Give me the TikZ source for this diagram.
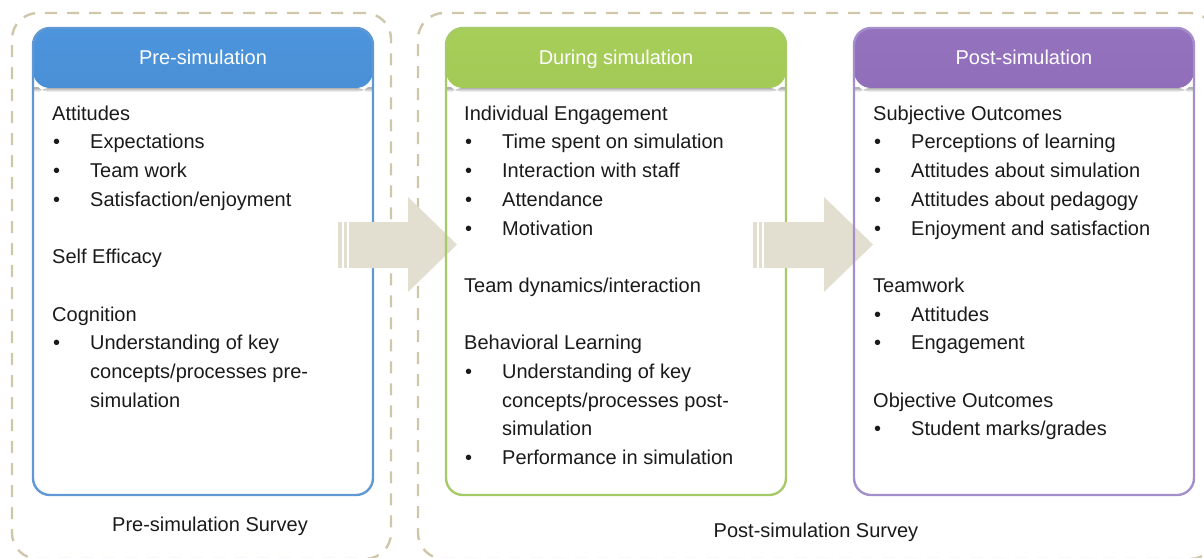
\documentclass[tikz,border=0pt]{standalone}
\usepackage{fontspec}
\setmainfont{Liberation Sans}

\definecolor{dashtan}{RGB}{208,199,170}
\definecolor{arrowfill}{RGB}{226,222,208}
\definecolor{inktext}{RGB}{26,26,26}
\definecolor{blueline}{RGB}{96,152,212}
\definecolor{bluetop}{RGB}{76,148,220}
\definecolor{bluebot}{RGB}{58,116,180}
\definecolor{greenline}{RGB}{166,202,104}
\definecolor{greentop}{RGB}{168,206,90}
\definecolor{greenbot}{RGB}{128,170,58}
\definecolor{purpline}{RGB}{164,142,204}
\definecolor{purptop}{RGB}{148,114,190}
\definecolor{purpbot}{RGB}{118,84,160}

% bullet with hanging indent, and the indent alone for wrapped lines
\newcommand\bul{\makebox[38pt][l]{\hspace{1pt}\textbullet}}
\newcommand\ind{\makebox[38pt]{}}

\begin{document}
\begin{tikzpicture}[x=1pt,y=-1pt,
  survey/.style={draw=dashtan, line width=2.4pt, dash pattern=on 12pt off 10pt,
    rounded corners=26pt, inner sep=0pt},
  stagebox/.style n args={3}{draw=#1, line width=2.4pt, rounded corners=17pt,
    minimum width=340pt, minimum height=467pt, inner sep=0pt,
    path picture={
      \shade[top color=#2, bottom color=#3]
        (path picture bounding box.north west) rectangle
        ([yshift=-60pt]path picture bounding box.north east);
      \shade[top color=black!30, bottom color=white]
        ([yshift=-60pt]path picture bounding box.north west) rectangle
        ([yshift=-64pt]path picture bounding box.north east);
    }},
  headtext/.style={text=white, font={\fontsize{20pt}{24pt}\selectfont}, inner sep=0pt, anchor=base},
  bodytext/.style={text=inktext, font={\fontsize{20pt}{28.7pt}\selectfont}, inner sep=0pt,
    align=left, anchor=north west},
  labeltext/.style={text=inktext, font={\fontsize{20pt}{24pt}\selectfont}, inner sep=0pt, anchor=base},
  blockarrow/.style={fill=arrowfill, draw=none}
]
\useasboundingbox (0,0) rectangle (1204,557);

% survey groupings
\node[survey, minimum width=379pt, minimum height=546pt] (presurveybox) at (201.5,286) {};
\node[survey, minimum width=798pt, minimum height=546pt] (postsurveybox) at (817,286) {};

% pre-simulation stage
\node[stagebox={blueline}{bluetop}{bluebot}] (pre) at (203,261.5) {};
\node[headtext] (prehead) at (203,64) {Pre-simulation};
\node[bodytext] (prebody) at (52,104) {\rule{0pt}{16pt}Attitudes\\
\bul Expectations\\
\bul Team work\\
\bul Satisfaction/enjoyment\\[28.7pt]
Self Efficacy\\[28.7pt]
Cognition\\
\bul Understanding of key\\
\ind concepts/processes pre-\\
\ind simulation};

% arrow from pre to during
\fill[blockarrow] (338,222) rectangle (341.5,268);
\fill[blockarrow] (343.5,222) rectangle (347,268);
\fill[blockarrow] (349,222) -- (408,222) -- (408,197) -- (457,244.5)
  -- (408,292) -- (408,268) -- (349,268) -- cycle;

% during simulation stage
\node[stagebox={greenline}{greentop}{greenbot}] (during) at (616,261.5) {};
\node[headtext] (durhead) at (616,64) {During simulation};
\node[bodytext] (durbody) at (464,104) {\rule{0pt}{16pt}Individual Engagement\\
\bul Time spent on simulation\\
\bul Interaction with staff\\
\bul Attendance\\
\bul Motivation\\[28.7pt]
Team dynamics/interaction\\[28.7pt]
Behavioral Learning\\
\bul Understanding of key\\
\ind concepts/processes post-\\
\ind simulation\\
\bul Performance in simulation};

% arrow from during to post
\fill[blockarrow] (753,222) rectangle (756.5,268);
\fill[blockarrow] (758.5,222) rectangle (762,268);
\fill[blockarrow] (764,222) -- (824,222) -- (824,197) -- (873,244.5)
  -- (824,292) -- (824,268) -- (764,268) -- cycle;

% post-simulation stage
\node[stagebox={purpline}{purptop}{purpbot}] (post) at (1024,261.5) {};
\node[headtext] (posthead) at (1024,64) {Post-simulation};
\node[bodytext] (postbody) at (873,104) {\rule{0pt}{16pt}Subjective Outcomes\\
\bul Perceptions of learning\\
\bul Attitudes about simulation\\
\bul Attitudes about pedagogy\\
\bul Enjoyment and satisfaction\\[28.7pt]
Teamwork\\
\bul Attitudes\\
\bul Engagement\\[28.7pt]
Objective Outcomes\\
\bul Student marks/grades};

% survey captions
\node[labeltext] (presurvey) at (210,531) {Pre-simulation Survey};
\node[labeltext] (postsurvey) at (816,537) {Post-simulation Survey};
\end{tikzpicture}
\end{document}
